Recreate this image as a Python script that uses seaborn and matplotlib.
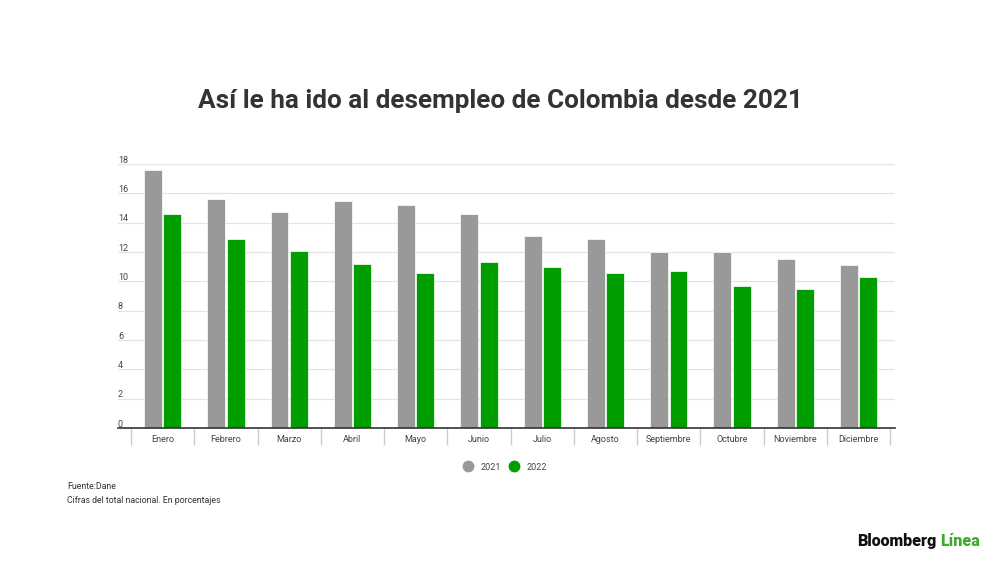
import pandas as pd
import seaborn as sns
import matplotlib.pyplot as plt
import matplotlib.transforms as mtransforms
from matplotlib.lines import Line2D

# Desempleo Colombia, cifras del total nacional (%)
meses = ['Enero', 'Febrero', 'Marzo', 'Abril', 'Mayo', 'Junio', 'Julio',
         'Agosto', 'Septiembre', 'Octubre', 'Noviembre', 'Diciembre']
valores_2021 = [17.6, 15.6, 14.7, 15.5, 15.2, 14.6, 13.1, 12.9, 12.0, 12.0, 11.5, 11.1]
valores_2022 = [14.6, 12.9, 12.1, 11.2, 10.6, 11.3, 11.0, 10.6, 10.7, 9.7, 9.5, 10.3]
yticks = [0, 2, 4, 6, 8, 10, 12, 14, 16, 18]

df = pd.DataFrame({'Mes': meses * 2,
                   'Año': ['2021'] * 12 + ['2022'] * 12,
                   'Valor': valores_2021 + valores_2022})

colores = {'2021': '#999999', '2022': '#009e00'}

sns.set_style('white')
plt.rcParams['font.family'] = ['Roboto', 'DejaVu Sans']

fig = plt.figure(figsize=(10, 5.62), dpi=100)
ax = fig.add_axes([0.118, 0.2384, 0.777, 0.4698])

sns.barplot(data=df, x='Mes', y='Valor', hue='Año', palette=colores,
            width=0.61, gap=0.07, ax=ax, legend=False, saturation=1,
            edgecolor='white', linewidth=0.5)

# axis limits so that the baseline sticks out a bit left of the first month
ax.set_xlim(-0.5 - 0.205, 11.5 + 0.074)
ax.set_ylim(0, 18)
ax.set_yticks(yticks)
ax.set_xlabel('')
ax.set_ylabel('')

ax.grid(axis='y', color='#e3e3e3', linewidth=0.9)
ax.set_axisbelow(True)
for s in ['top', 'right', 'left']:
    ax.spines[s].set_visible(False)
ax.spines['bottom'].set_color('#333333')
ax.spines['bottom'].set_linewidth(1.2)

# y labels sit on top of the grid lines, left aligned
ax.tick_params(axis='y', length=0, pad=0, labelsize=6.5, labelcolor='#444444')
offset = mtransforms.ScaledTranslation(0, -0.5 / 72, fig.dpi_scale_trans)
for lbl in ax.get_yticklabels():
    lbl.set_horizontalalignment('left')
    lbl.set_verticalalignment('bottom')
    lbl.set_transform(lbl.get_transform() + offset)

# month separators as minor ticks
ax.set_xticks([i - 0.5 for i in range(13)], minor=True)
ax.tick_params(axis='x', which='minor', bottom=True, length=12, width=1, color='#cccccc')
ax.tick_params(axis='x', which='major', length=0, pad=5, labelsize=6.5, labelcolor='#444444')

fig.text(0.5, 0.82, 'Así le ha ido al desempleo de Colombia desde 2021',
         ha='center', va='center', fontsize=18.8, fontweight='bold', color='#333333')

handles = [Line2D([], [], marker='o', linestyle='', markersize=7.5,
                  markerfacecolor=colores[k], markeredgecolor=colores[k]) for k in colores]
fig.legend(handles, list(colores.keys()), loc='center', bbox_to_anchor=(0.505, 0.169),
           ncol=2, frameon=False, fontsize=6.5, handletextpad=0.9, columnspacing=0.9,
           handlelength=1.0, labelcolor='#444444')

fig.text(0.067, 0.1335, 'Fuente:Dane', fontsize=6.3, color='#333333', va='center')
fig.text(0.067, 0.110, 'Cifras del total nacional. En porcentajes', fontsize=6.3,
         color='#333333', va='center')

logo = fig.text(0.857, 0.028, 'Bloomberg', fontsize=11.5, fontweight='heavy',
                color='#111111', ha='left', va='baseline')
ax.annotate('Línea', xy=(1, 0), xycoords=logo, xytext=(2.5, 0), textcoords='offset points',
            fontsize=11.5, fontweight='heavy', color='#3aae2a', ha='left', va='bottom')

fig.savefig('out.png', dpi=100, facecolor='white')
